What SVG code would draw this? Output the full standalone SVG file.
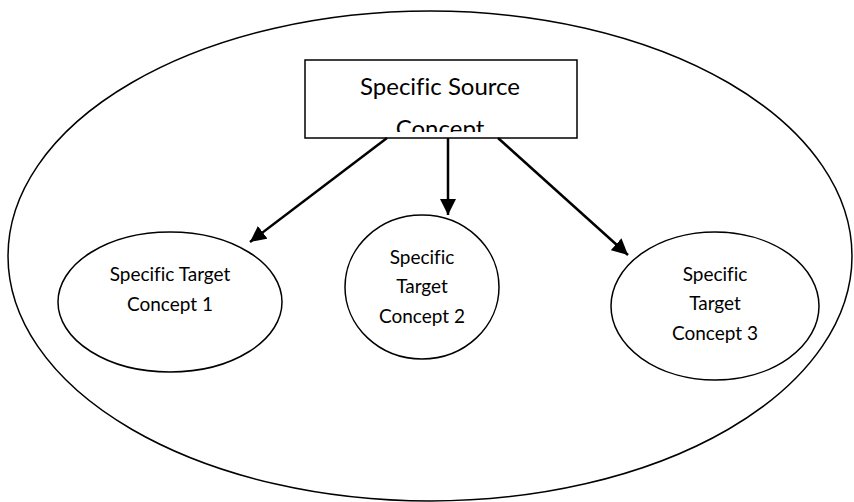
<svg xmlns="http://www.w3.org/2000/svg" width="854" height="502" viewBox="0 0 854 502">
<style>
.s{fill:#fff;stroke:#000;stroke-width:1.5}
.t{font-family:Lato,"Liberation Sans",sans-serif;font-size:19px;fill:#000;text-anchor:middle;font-variant-ligatures:none}
.tb{font-family:Lato,"Liberation Sans",sans-serif;font-size:24px;fill:#000;text-anchor:middle;font-variant-ligatures:none}
.c{stroke:#000;stroke-width:2.5;fill:none;marker-end:url(#a)}
</style>
<defs>
<marker id="a" viewBox="0 0 10 10" refX="10" refY="5" markerWidth="16" markerHeight="16" markerUnits="userSpaceOnUse" orient="auto">
<path d="M0,0 L10,5 L0,10 z" fill="#000"/>
</marker>
<clipPath id="bx"><rect x="306" y="61" width="270" height="71"/></clipPath>
</defs>
<g id="outer"><ellipse class="s" cx="430" cy="256" rx="422" ry="245"/></g>
<g id="source">
<rect class="s" x="305" y="60" width="272" height="78"/>
<g clip-path="url(#bx)">
<text class="tb" x="440" y="95">Specific Source</text>
<text class="tb" x="440" y="137">Concept</text>
</g>
</g>
<g id="connectors">
<line class="c" x1="387" y1="138" x2="250" y2="242"/>
<line class="c" x1="448" y1="138" x2="448" y2="215"/>
<line class="c" x1="498" y1="138" x2="628" y2="255"/>
</g>
<g id="target1">
<ellipse class="s" cx="170" cy="302" rx="112" ry="70"/>
<text class="t" x="170" y="281">Specific Target</text>
<text class="t" x="170" y="311">Concept 1</text>
</g>
<g id="target2">
<ellipse class="s" cx="422" cy="287" rx="77" ry="72"/>
<text class="t" x="422" y="264">Specific</text>
<text class="t" x="422" y="293">Target</text>
<text class="t" x="422" y="323">Concept 2</text>
</g>
<g id="target3">
<ellipse class="s" cx="715" cy="306" rx="104" ry="74"/>
<text class="t" x="715" y="281">Specific</text>
<text class="t" x="715" y="310">Target</text>
<text class="t" x="715" y="340">Concept 3</text>
</g>
</svg>
